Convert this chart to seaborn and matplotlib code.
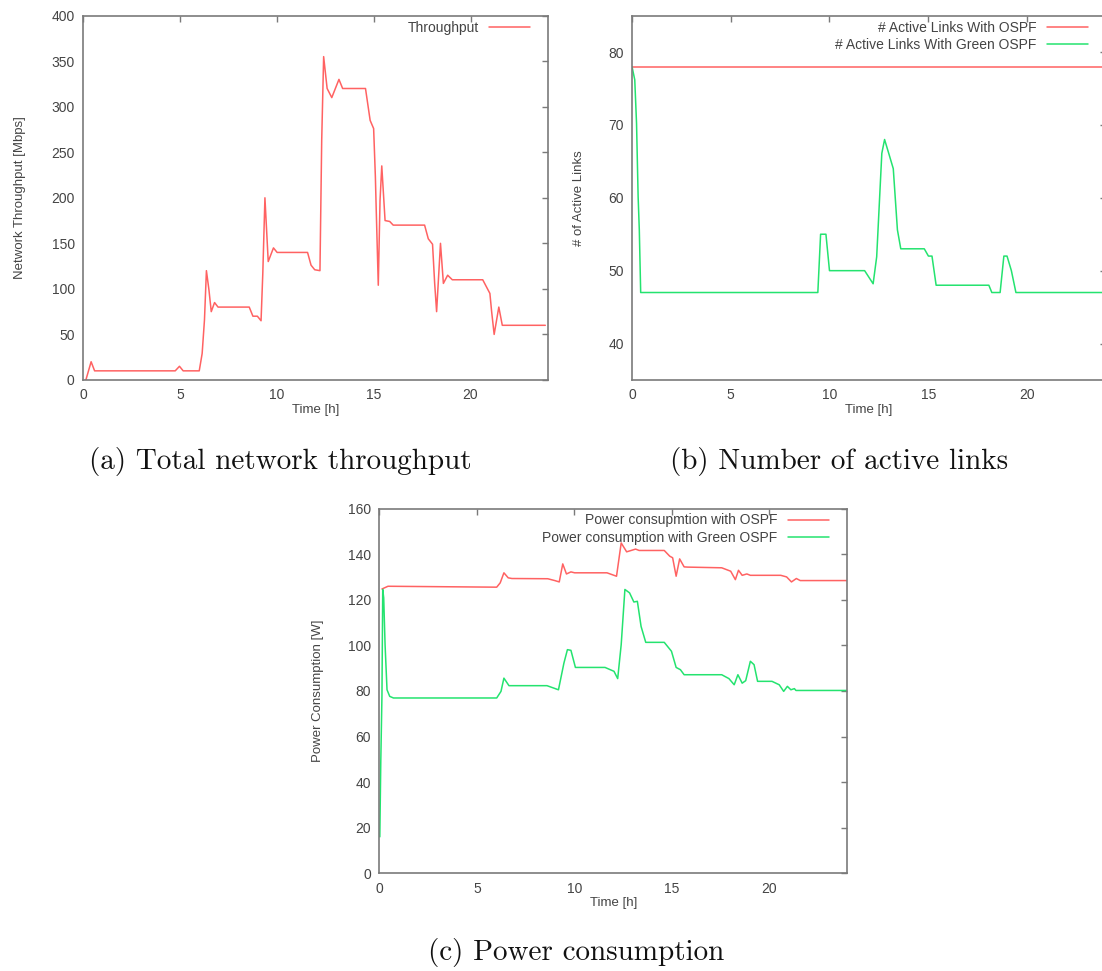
import matplotlib
matplotlib.use("Agg")
import matplotlib.pyplot as plt
import seaborn as sns

# ---------------- data ----------------
# (a) Total network throughput
thr_time = [0.15, 0.42, 0.6, 4.76, 4.98, 5.17, 6.0, 6.15, 6.27, 6.37, 6.5, 6.62, 6.79, 6.97,
            8.58, 8.77, 9.0, 9.19, 9.28, 9.39, 9.56, 9.83, 10.02, 11.59, 11.77, 11.96, 12.23,
            12.32, 12.42, 12.6, 12.84, 13.21, 13.4, 14.58, 14.82, 15.0, 15.09, 15.13, 15.24,
            15.33, 15.42, 15.59, 15.83, 16.01, 17.63, 17.82, 18.04, 18.15, 18.25, 18.45, 18.6,
            18.82, 19.06, 20.63, 21.0, 21.09, 21.22, 21.46, 21.64, 23.86]
thr_mbps = [0, 20, 10, 10, 15, 10, 10, 29, 66, 120, 99, 75, 85, 80,
            80, 70, 70, 65, 117, 200, 130, 145, 140, 140, 126, 121, 120,
            263, 355, 320, 310, 330, 320, 320, 285, 276, 223, 190, 104,
            197, 235, 175, 174, 170, 170, 155, 149, 106, 75, 150, 106,
            115, 110, 110, 95, 75, 50, 80, 60, 60]

# (b) Number of active links
links_ospf_time = [0, 24]
links_ospf = [78, 78]
links_green_time = [0, 0.14, 0.23, 0.31, 0.37, 0.44, 9.41, 9.55, 9.68, 9.82, 10.0, 11.78,
                    12.21, 12.39, 12.65, 12.79, 13.0, 13.23, 13.44, 13.61, 14.8, 15.01, 15.19,
                    15.4, 18.07, 18.22, 18.64, 18.83, 18.99, 19.21, 19.44, 24]
links_green = [78, 76.2, 70.2, 60.2, 55.6, 47, 47, 55, 55, 55, 50, 50,
               48.2, 51.9, 66.1, 68, 66.1, 64, 55.6, 53, 53, 52, 52,
               48, 48, 47, 47, 52, 52, 50, 47, 47]

# (c) Power consumption
pow_ospf_time = [0.13, 0.44, 6.02, 6.2, 6.39, 6.61, 6.8, 8.64, 9.0, 9.23, 9.41, 9.6, 9.83,
                 10.02, 11.68, 12.17, 12.41, 12.69, 13.15, 13.33, 14.62, 14.9, 15.05, 15.23,
                 15.41, 15.64, 15.82, 17.57, 18.03, 18.27, 18.43, 18.62, 18.86, 19.04, 20.6,
                 20.9, 21.15, 21.4, 21.6, 24]
pow_ospf = [124.7, 125.9, 125.5, 127.4, 131.8, 129.6, 129.3, 129.2, 128.4, 127.8, 135.7, 131.3,
            132.2, 131.8, 131.8, 130.3, 144.9, 141, 142.2, 141.6, 141.6, 139.1, 138.4, 130.3,
            137.9, 134.4, 134.3, 134, 132.5, 128.8, 132.9, 130.7, 131.3, 130.7, 130.7,
            130, 127.8, 129.3, 128.4, 128.4]
pow_green_time = [0.02, 0.07, 0.13, 0.17, 0.22, 0.29, 0.39, 0.53, 0.72, 6.02, 6.24, 6.39, 6.65,
                  8.6, 9.19, 9.47, 9.65, 9.83, 10.06, 11.58, 12.04, 12.23, 12.41, 12.6, 12.84,
                  13.06, 13.24, 13.43, 13.67, 14.62, 14.99, 15.23, 15.45, 15.64, 17.57, 17.94,
                  18.21, 18.4, 18.62, 18.8, 19.04, 19.23, 19.41, 20.15, 20.52, 20.75, 20.94,
                  21.12, 21.3, 21.38, 24]
pow_green = [16, 49, 78, 124.5, 120.8, 100.3, 80.5, 77.6, 76.9, 76.9, 79.8, 85.6, 82.3,
             82.3, 80.5, 92.2, 98.1, 97.8, 90.3, 90.3, 88.6, 85.4, 100.3, 124.5, 123,
             119, 119.3, 108.3, 101.3, 101.3, 97.4, 90.3, 89.3, 87.1, 87.1, 85.4,
             82.7, 87.1, 83.4, 84.5, 93, 91.5, 84.2, 84.2, 82.7, 79.8, 82,
             80.5, 81, 80.2, 80.2]

x_ticks = [0, 5, 10, 15, 20]

# ---------------- style ----------------
sns.set_theme(style="white")
plt.rcParams['font.family'] = ['Liberation Sans', 'DejaVu Sans']

RED = '#ff6262'
GREEN = '#24e36f'
FRAME = '#7a7a7a'
TXT = '#444444'

fig = plt.figure(figsize=(11.02, 9.71), dpi=100)
ax_a = fig.add_axes([0.0753, 0.6087, 0.4220, 0.3752])
ax_b = fig.add_axes([0.5735, 0.6087, 0.4301, 0.3752])
ax_c = fig.add_axes([0.3443, 0.1006, 0.4243, 0.3757])


def draw(ax, x, y, color, label):
    sns.lineplot(x=x, y=y, ax=ax, color=color, lw=1.1, estimator=None,
                 sort=False, legend=False, label=label)


def style(ax, ylim, yticks, ylabel, ylabel_x, labels, w_px, h_px):
    ax.set_xlim(0, 24)
    ax.set_ylim(*ylim)
    ax.set_xticks(x_ticks)
    ax.set_yticks(yticks)
    ax.tick_params(direction='in', length=4, width=1, color=FRAME, top=True, right=True,
                   labelsize=10, labelcolor=TXT, pad=6)
    for s in ax.spines.values():
        s.set_color(FRAME)
        s.set_linewidth(1.2)
    ax.set_xlabel('Time [h]', fontsize=9.5, color=TXT)
    ax.xaxis.set_label_coords(0.5, -0.066)
    ax.set_ylabel(ylabel, fontsize=9.5, color=TXT)
    ax.yaxis.set_label_coords(ylabel_x, 0.5)
    lines = ax.get_lines()
    leg = ax.legend(lines, labels, loc='upper right', frameon=False, markerfirst=False,
                    fontsize=10, handlelength=2.95, handletextpad=0.75, labelspacing=0.25,
                    borderaxespad=0.2, borderpad=0.3,
                    bbox_to_anchor=(1 - 11 / w_px, 1 + 2 / h_px))
    for t in leg.get_texts():
        t.set_color(TXT)


# (a)
draw(ax_a, thr_time, thr_mbps, RED, 'Throughput')
style(ax_a, (0, 400), list(range(0, 401, 50)), 'Network Throughput [Mbps]', -0.1215,
      ['Throughput'], 465, 364)

# (b)
draw(ax_b, links_ospf_time, links_ospf, RED, '# Active Links With OSPF')
draw(ax_b, links_green_time, links_green, GREEN, '# Active Links With Green OSPF')
style(ax_b, (35, 85), [40, 50, 60, 70, 80], '# of Active Links', -0.1,
      ['# Active Links With OSPF', '# Active Links With Green OSPF'], 474, 364)

# (c)
draw(ax_c, pow_ospf_time, pow_ospf, RED, 'Power consupmtion with OSPF')
draw(ax_c, pow_green_time, pow_green, GREEN, 'Power consumption with Green OSPF')
style(ax_c, (0, 160), list(range(0, 161, 20)), 'Power Consumption [W]', -0.118,
      ['Power consupmtion with OSPF', 'Power consumption with Green OSPF'], 468, 365)

# captions
cap = dict(ha='center', va='center', fontfamily='cmr10', fontsize=21, color='#111111')
fig.text(280 / 1102, 1 - 462 / 971, '(a) Total network throughput', **cap)
fig.text(839 / 1102, 1 - 462 / 971, '(b) Number of active links', **cap)
fig.text(576 / 1102, 1 - 952 / 971, '(c) Power consumption', **cap)

fig.savefig('out.png', dpi=100)
